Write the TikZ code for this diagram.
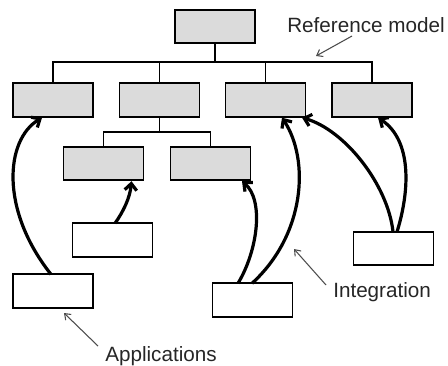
\documentclass[tikz,border=0pt]{standalone}
\usepackage{fontspec}
\setmainfont{Liberation Sans}
\usetikzlibrary{arrows.meta,calc}
\begin{document}
\begin{tikzpicture}[x=0.75pt,y=-0.75pt,
  model/.style={draw=black,line width=1.4pt,fill=black!14,minimum width=60pt,minimum height=25pt,inner sep=0pt,outer sep=0pt},
  app/.style={draw=black,line width=1.4pt,fill=white,minimum width=60pt,minimum height=25pt,inner sep=0pt,outer sep=0pt},
  tree/.style={line width=1.4pt},
  integ/.style={line width=2.4pt,-{Straight Barb[length=5pt,width=9pt]}},
  note/.style={draw=black!70,line width=0.8pt,-{Straight Barb[length=4pt,width=6pt]}},
  lbl/.style={font=\fontsize{15.5}{18}\selectfont,inner sep=0pt,text=black!85}]
\useasboundingbox (0,0) rectangle (448,365);
% reference model
\node[model,minimum height=24.5pt] (top) at (215,26.5) {};
\node[model] (A) at (53,100) {};
\node[model] (B) at (159.5,100) {};
\node[model] (C) at (265.5,100) {};
\node[model] (D) at (372,100) {};
\node[model] (E) at (103.5,163.5) {};
\node[model] (F) at (210.5,163.5) {};
\coordinate (bus) at (215,62);
\coordinate (sub) at (159.5,132);
\draw[tree] (top.south) -- (top.south|-bus);
\draw[tree] (A.north) -- (A.north|-bus) -- (D.north|-bus) -- (D.north);
\draw[tree] (B.north) -- (B.north|-bus);
\draw[tree] (C.north) -- (C.north|-bus);
\draw[tree] (B.south) -- (B.south|-sub);
\draw[tree] (E.north) -- (E.north|-sub) -- (F.north|-sub) -- (F.north);
% applications
\node[app] (G) at (112.5,240) {};
\node[app] (H) at (53,291) {};
\node[app] (I) at (252.5,300) {};
\node[app] (J) at (393.5,248.5) {};
% integration arrows
\draw[integ] ($(H.north)+(-2,0)$) .. controls (0,210) and (5,140) .. ($(A.south)+(-11,1)$);
\draw[integ] ($(G.north)+(2.5,0)$) .. controls (123,212) and (130,198) .. ($(E.south)+(28,1)$);
\draw[integ] ($(I.north)+(-14.5,0)$) .. controls (258,250) and (264,200) .. ($(F.south)+(31.5,1)$);
\draw[integ] ($(I.north)+(-0.5,0)$) .. controls (305,235) and (310,160) .. ($(C.south)+(16.5,1)$);
\draw[integ] ($(J.north)+(-0.5,0)$) .. controls (388,185) and (345,130) .. ($(C.south)+(36.5,1)$);
\draw[integ] ($(J.north)+(3.5,0)$) .. controls (410,190) and (412,140) .. ($(D.south)+(6,1)$);
% labels
\node[lbl,anchor=base west] (rm) at (287,32) {Reference model};
\node[lbl,anchor=base west] (ig) at (333,297) {Integration};
\node[lbl,anchor=base west] (ap) at (105,361) {Applications};
\coordinate (rmt) at (316,56);
\coordinate (igt) at (294,249);
\coordinate (apt) at (64,313);
\draw[note] (352,36) -- (rmt);
\draw[note] (326,285) -- (igt);
\draw[note] (98,346) -- (apt);
\end{tikzpicture}
\end{document}
